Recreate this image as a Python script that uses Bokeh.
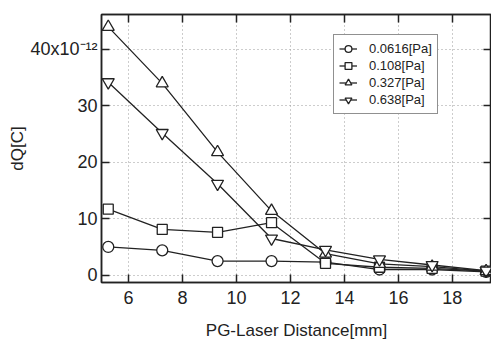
from bokeh.plotting import figure
from bokeh.models import (LinearAxis, FixedTicker, Range1d, Legend, LegendItem,
                          ColumnDataSource)
from bokeh.embed import file_html
from bokeh.resources import INLINE

# PG-Laser distance [mm]
distance = [5.25, 7.25, 9.3, 11.3, 13.3, 15.3, 17.25, 19.25]
# dQ [x10^-12 C]
dq_00616 = [5.0, 4.4, 2.5, 2.5, 2.3, 1.0, 1.0, 0.6]
dq_0108 = [11.7, 8.1, 7.6, 9.3, 2.1, 1.4, 1.2, 0.7]
dq_0327 = [44.0, 34.0, 21.8, 11.4, 3.8, 2.0, 1.5, 0.7]
dq_0638 = [34.2, 25.2, 16.2, 6.5, 4.5, 2.8, 1.8, 0.8]
series_labels = ["0.0616[Pa]", "0.108[Pa]", "0.327[Pa]", "0.638[Pa]"]
x_ticks = [6, 8, 10, 12, 14, 16, 18]
y_ticks = [0, 10, 20, 30, 40]
y_tick_labels = ["0", "10", "20", "30", "40x10\u207b\u00b9\u00b2"]

FONT = "Liberation Sans"
INK = "#222222"

p = figure(width=491, height=346, output_backend="svg", toolbar_location=None,
           x_range=Range1d(5, 19.45), y_range=Range1d(-1.3, 46.2),
           min_border_left=101, min_border_top=14, min_border_right=0,
           min_border_bottom=64)
p.background_fill_color = "white"
p.border_fill_color = "white"
p.outline_line_color = INK
p.outline_line_width = 1.5

for ax in p.xaxis:
    ax.ticker = FixedTicker(ticks=x_ticks)
for ax in p.yaxis:
    ax.ticker = FixedTicker(ticks=y_ticks)
    ax.major_label_overrides = {t: s for t, s in zip(y_ticks, y_tick_labels)}

for ax in list(p.xaxis) + list(p.yaxis):
    ax.major_tick_in = 8
    ax.major_tick_out = 0
    ax.minor_tick_line_color = None
    ax.axis_line_color = INK
    ax.axis_line_width = 1.5
    ax.major_tick_line_color = INK
    ax.major_tick_line_width = 1.5
    ax.major_label_text_font = FONT
    ax.major_label_text_font_size = "18px"
    ax.major_label_text_color = INK
    ax.axis_label_text_font = FONT
    ax.axis_label_text_font_size = "17px"
    ax.axis_label_text_font_style = "normal"
    ax.axis_label_text_color = INK

p.xaxis.axis_label = "PG-Laser Distance[mm]"
p.xaxis.major_label_standoff = 8
p.xaxis.axis_label_standoff = 14
p.yaxis.axis_label = "dQ[C]"
p.yaxis.major_label_standoff = 4
p.yaxis.axis_label_standoff = 0


def mirror_axis(ticks):
    return LinearAxis(ticker=FixedTicker(ticks=ticks),
                      major_label_overrides={t: "" for t in ticks},
                      major_label_text_font_size="0px", major_label_standoff=0,
                      major_tick_in=8, major_tick_out=0,
                      minor_tick_line_color=None, axis_line_color=INK,
                      axis_line_width=1.5, major_tick_line_color=INK,
                      major_tick_line_width=1.5)


p.add_layout(mirror_axis(x_ticks), "above")
p.add_layout(mirror_axis(y_ticks), "right")

for g in p.grid:
    g.grid_line_color = "#9a9a9a"
    g.grid_line_dash = "1 3"
    g.grid_line_width = 1
p.xgrid.ticker = FixedTicker(ticks=x_ticks)
p.ygrid.ticker = FixedTicker(ticks=y_ticks)

markers = ["circle", "square", "triangle", "inverted_triangle"]
sizes = [11, 10, 12, 12]
all_series = [dq_00616, dq_0108, dq_0327, dq_0638]
items = []
for vals, mk, sz, lab in zip(all_series, markers, sizes, series_labels):
    src = ColumnDataSource(dict(x=distance, y=vals))
    ln = p.line("x", "y", source=src, line_color=INK, line_width=1.3)
    sc = p.scatter("x", "y", source=src, marker=mk, size=sz, fill_color="white",
                   line_color=INK, line_width=1.3)
    items.append(LegendItem(label=lab, renderers=[ln, sc]))

legend = Legend(items=items, location=(232, 168))
legend.label_text_font = FONT
legend.label_text_font_size = "13px"
legend.label_text_color = INK
legend.border_line_color = INK
legend.border_line_width = 1.5
legend.background_fill_alpha = 1
legend.padding = 5
legend.margin = 0
legend.spacing = 0
legend.glyph_width = 18
legend.glyph_height = 17
legend.label_height = 16
legend.label_standoff = 12
p.add_layout(legend, "center")

open("out.html", "w").write(file_html(p, INLINE))
